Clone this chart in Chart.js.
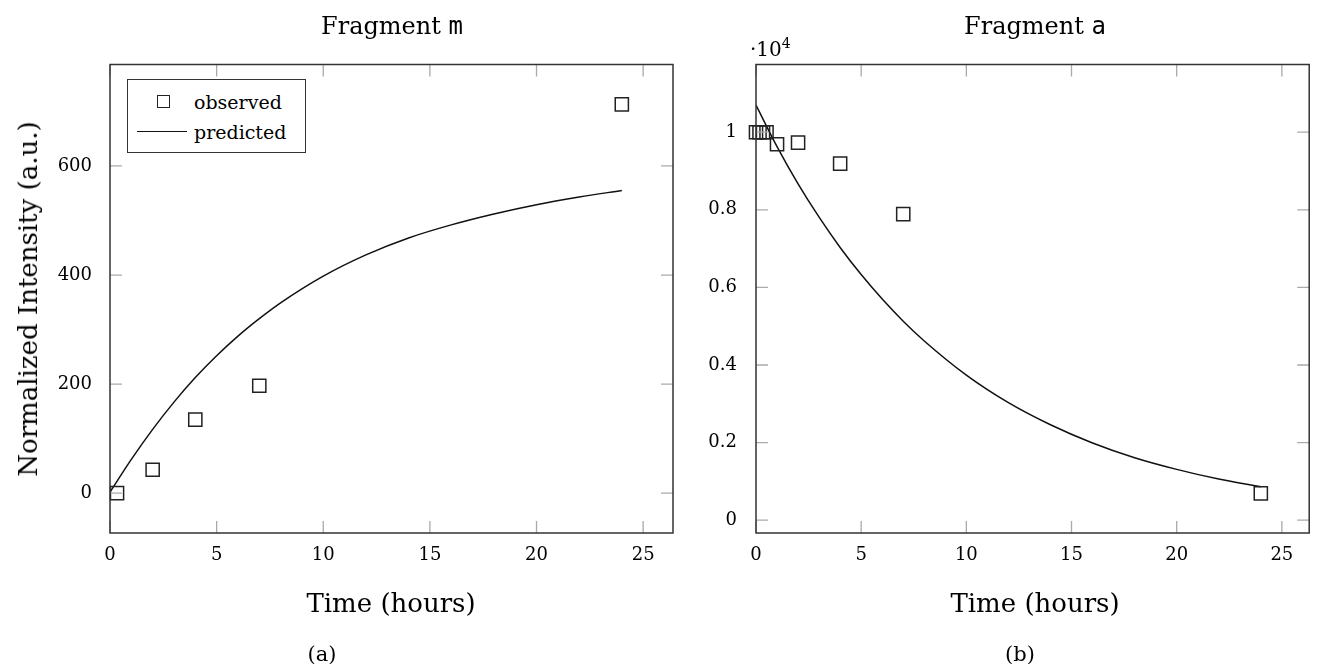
<!DOCTYPE html>
<html>
<head>
<meta charset="utf-8">
<script src="https://cdn.jsdelivr.net/npm/chart.js@4.4.1/dist/chart.umd.min.js"></script>
<style>
  body { margin: 0; background: #fff; }
  #page { position: relative; width: 1320px; height: 672px; overflow: hidden; background: #fff;
          font-family: "DejaVu Serif", serif; color: #000; }
  canvas { position: absolute; top: 0; }
  .txt { position: absolute; transform: translate(-50%, -50%); white-space: nowrap; line-height: 1; }
  .tt { font-family: "DejaVu Sans Mono", monospace; }
  .title { font-size: 24px; }
  .xlabel { font-size: 26px; }
  .cap { font-size: 21px; }
  .ylabel { font-size: 26px; transform: translate(-50%, -50%) rotate(-90deg); }
  .legend { position: absolute; left: 127px; top: 79px; width: 177px; height: 72px;
            border: 1.4px solid #333; background: #fff; font-size: 19px; }
  .legend .row { position: absolute; left: 66px; line-height: 1; transform: translateY(-50%); }
  .legend .sq { position: absolute; left: 29px; top: 15px; width: 11px; height: 11px; border: 1.5px solid #222; }
  .legend .ln { position: absolute; left: 9px; top: 51px; width: 50px; height: 0; border-top: 1.4px solid #111; }
  .exp { position: absolute; left: 750px; top: 36px; font-size: 20px; line-height: 1; }
  .exp sup { font-size: 14px; vertical-align: 8px; }
</style>
</head>
<body>
<div id="page">
  <canvas id="chartA" width="690" height="672"></canvas>
  <canvas id="chartB" width="640" height="672" style="left:680px"></canvas>

  <div class="txt title" style="left:392px; top:26px;">Fragment <span class="tt">m</span></div>
  <div class="txt title" style="left:1035px; top:26px;">Fragment <span class="tt">a</span></div>
  <div class="txt ylabel" style="left:28px; top:299px;">Normalized Intensity (a.u.)</div>
  <div class="txt xlabel" style="left:391px; top:603px;">Time (hours)</div>
  <div class="txt xlabel" style="left:1035px; top:603px;">Time (hours)</div>
  <div class="txt cap" style="left:322px; top:654px;">(a)</div>
  <div class="txt cap" style="left:1020px; top:654px;">(b)</div>
  <div class="exp">·10<sup>4</sup></div>

  <div class="legend">
    <span class="sq"></span>
    <span class="row" style="top:22px;">observed</span>
    <span class="ln"></span>
    <span class="row" style="top:52px;">predicted</span>
  </div>
</div>

<script>
// panel (a): fragment m
const timeObsA = [0.33, 2, 4, 7, 24];
const obsA = [0, 43, 135, 197, 713];
const timeFitA = [0, 1, 2, 3, 4, 5, 6, 7, 8, 10, 12, 14, 16, 18, 20, 22, 24];
const fitA = [2, 62, 117, 167, 212, 252, 288, 320, 349, 398, 437, 468, 492, 512, 529, 543, 555];
const xTicksA = [0, 5, 10, 15, 20, 25];
const yTicksA = [0, 200, 400, 600];

// panel (b): fragment a
const timeObsB = [0, 0.167, 0.333, 0.5, 1, 2, 4, 7, 24];
const obsB = [10000, 10000, 10000, 10000, 9690, 9730, 9190, 7890, 690];
const timeFitB = [0, 1, 2, 3, 4, 5, 6, 7, 8, 10, 12, 14, 16, 18, 20, 22, 24];
const fitB = [10700, 9630, 8670, 7810, 7030, 6330, 5700, 5130, 4620, 3740, 3030, 2460, 1990, 1610, 1310, 1060, 860];
const xTicksB = [0, 5, 10, 15, 20, 25];
const yTicksB = [0, 2000, 4000, 6000, 8000, 10000];

const TICK_LEN = 12;
const tickFont = { family: 'DejaVu Serif', size: 18 };

const framePlugin = {
    id: 'frame',
    afterDatasetsDraw(chart) {
        const { ctx, chartArea: a, scales } = chart;
        ctx.save();
        ctx.strokeStyle = '#aaaaaa';
        ctx.lineWidth = 1.3;
        ctx.beginPath();
        scales.x.ticks.forEach(t => {
            const px = scales.x.getPixelForValue(t.value);
            ctx.moveTo(px, a.bottom); ctx.lineTo(px, a.bottom - TICK_LEN);
            ctx.moveTo(px, a.top); ctx.lineTo(px, a.top + TICK_LEN);
        });
        scales.y.ticks.forEach(t => {
            const py = scales.y.getPixelForValue(t.value);
            ctx.moveTo(a.left, py); ctx.lineTo(a.left + TICK_LEN, py);
            ctx.moveTo(a.right, py); ctx.lineTo(a.right - TICK_LEN, py);
        });
        ctx.stroke();
        ctx.strokeStyle = '#333333';
        ctx.lineWidth = 1.5;
        ctx.strokeRect(a.left, a.top, a.width, a.height);
        ctx.restore();
    }
};

function toPoints(xs, ys) {
    return xs.map((x, i) => ({ x: x, y: ys[i] }));
}

function makeChart(id, cfg) {
    const ctx = document.getElementById(id).getContext('2d');
    return new Chart(ctx, {
        type: 'scatter',
        data: {
            datasets: [
                {
                    label: 'observed',
                    data: toPoints(cfg.timeObs, cfg.obs),
                    pointStyle: 'rect',
                    pointRadius: 9.3,
                    borderColor: '#222',
                    borderWidth: 1.5,
                    backgroundColor: 'rgba(0,0,0,0)',
                    showLine: false,
                    clip: false
                },
                {
                    label: 'predicted',
                    data: toPoints(cfg.timeFit, cfg.fit),
                    showLine: true,
                    pointRadius: 0,
                    borderColor: '#111',
                    borderWidth: 1.5,
                    cubicInterpolationMode: 'monotone',
                    fill: false
                }
            ]
        },
        options: {
            responsive: false,
            devicePixelRatio: 1,
            animation: false,
            events: [],
            layout: { padding: cfg.padding },
            plugins: {
                legend: { display: false },
                tooltip: { enabled: false }
            },
            scales: {
                x: {
                    type: 'linear',
                    min: cfg.xMin, max: cfg.xMax,
                    afterBuildTicks: s => { s.ticks = cfg.xTicks.map(v => ({ value: v })); },
                    afterFit: s => { s.height = 40; },
                    grid: { display: false },
                    border: { display: false },
                    ticks: { font: tickFont, color: '#000', padding: 4, maxRotation: 0 }
                },
                y: {
                    type: 'linear',
                    min: cfg.yMin, max: cfg.yMax,
                    afterBuildTicks: s => { s.ticks = cfg.yTicks.map(v => ({ value: v })); },
                    afterFit: s => { s.width = cfg.yWidth; },
                    grid: { display: false },
                    border: { display: false },
                    ticks: { font: tickFont, color: '#000', padding: cfg.yPad, callback: cfg.yFmt }
                }
            }
        },
        plugins: [framePlugin]
    });
}

makeChart('chartA', {
    timeObs: timeObsA, obs: obsA, timeFit: timeFitA, fit: fitA,
    xTicks: xTicksA, yTicks: yTicksA,
    xMin: 0, xMax: 26.4, yMin: -73, yMax: 786,
    yWidth: 110, yPad: 10,
    padding: { left: 0, top: 64.5, right: 17, bottom: 99 },
    yFmt: v => String(v)
});

makeChart('chartB', {
    timeObs: timeObsB, obs: obsB, timeFit: timeFitB, fit: fitB,
    xTicks: xTicksB, yTicks: yTicksB,
    xMin: 0, xMax: 26.3, yMin: -330, yMax: 11745,
    yWidth: 76, yPad: 11,
    padding: { left: 0, top: 64.5, right: 6, bottom: 99 },
    yFmt: v => String(Math.round(v / 1000) / 10)
});
</script>
</body>
</html>
